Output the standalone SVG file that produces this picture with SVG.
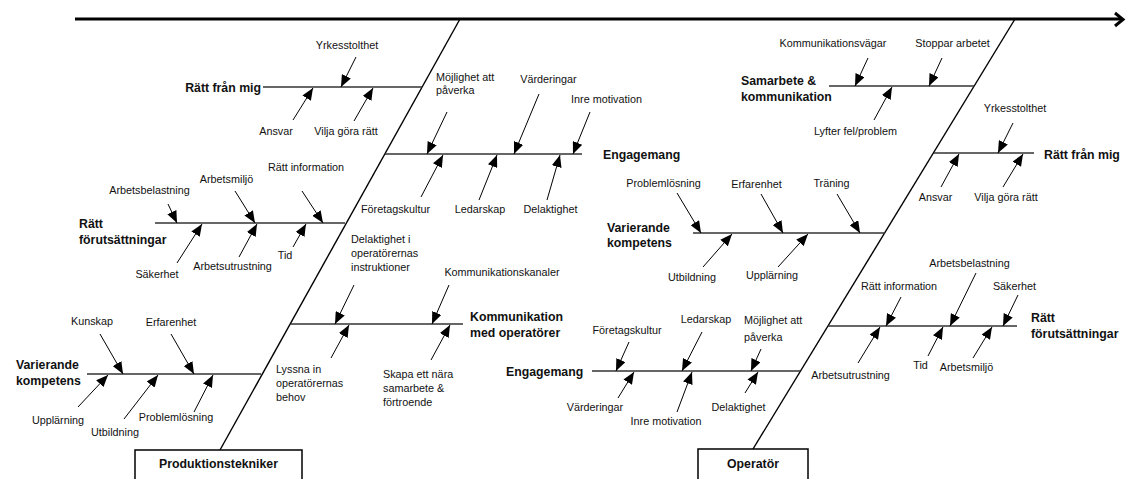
<svg xmlns="http://www.w3.org/2000/svg" width="1126" height="479" viewBox="0 0 1126 479">
  <defs>
    <style>
      text { font-family: "Liberation Sans", Arial, sans-serif; fill: #111; }
      .c { font-size: 10.8px; text-anchor: middle; }
      .s { font-size: 10.8px; }
      .h { font-size: 12.3px; font-weight: bold; }
      .hm { font-size: 12.3px; font-weight: bold; text-anchor: middle; }
      .spine { stroke: #000; stroke-width: 3; fill: none; }
      .bone { stroke: #000; stroke-width: 1.4; fill: none; }
      .rib { stroke: #333; stroke-width: 1.3; fill: none; }
      .cause { stroke: #000; stroke-width: 1; fill: none; marker-end: url(#ah); }
      .box { fill: #fff; stroke: #000; stroke-width: 1.5; }
    </style>
    <marker id="ah" viewBox="0 0 12 10" refX="12" refY="5" markerWidth="12" markerHeight="10" orient="auto" markerUnits="userSpaceOnUse">
      <path d="M0,0 L12,5 L0,10 z" fill="#000"/>
    </marker>
  </defs>

  <!-- connectors: spine, diagonal bones, category ribs and cause arrows -->
  <g id="connectors">
    <line class="spine" x1="75" y1="19" x2="1122" y2="19"/>
    <polyline class="spine" stroke-width="2.5" points="1115,13 1123,19.5 1115,26"/>

    <line class="bone" x1="460" y1="19" x2="220" y2="450"/>
    <line class="bone" x1="1015" y1="19" x2="753" y2="449"/>

    <line class="rib" x1="263" y1="87" x2="422" y2="87"/>
    <line class="rib" x1="155" y1="223" x2="345" y2="223"/>
    <line class="rib" x1="87" y1="374" x2="261" y2="374"/>
    <line class="rib" x1="385" y1="154" x2="582" y2="154"/>
    <line class="rib" x1="291" y1="324" x2="463" y2="324"/>
    <line class="rib" x1="829" y1="86" x2="974" y2="86"/>
    <line class="rib" x1="934" y1="153" x2="1034" y2="153"/>
    <line class="rib" x1="693" y1="233" x2="885" y2="233"/>
    <line class="rib" x1="592" y1="371" x2="800" y2="371"/>
    <line class="rib" x1="828" y1="326" x2="1017" y2="326"/>

    <!-- Produktionstekniker: Rätt från mig -->
    <line class="cause" x1="356" y1="57" x2="341" y2="87"/>
    <line class="cause" x1="293" y1="120" x2="313" y2="88"/>
    <line class="cause" x1="354" y1="121" x2="373" y2="88"/>
    <!-- Rätt förutsättningar -->
    <line class="cause" x1="168" y1="204" x2="177" y2="223"/>
    <line class="cause" x1="235" y1="191" x2="255" y2="223"/>
    <line class="cause" x1="302" y1="191" x2="323" y2="223"/>
    <line class="cause" x1="177" y1="263" x2="202" y2="224"/>
    <line class="cause" x1="239" y1="257" x2="257" y2="224"/>
    <line class="cause" x1="293" y1="247" x2="306" y2="224"/>
    <!-- Varierande kompetens -->
    <line class="cause" x1="100" y1="334" x2="123" y2="374"/>
    <line class="cause" x1="171" y1="334" x2="194" y2="374"/>
    <line class="cause" x1="78" y1="407" x2="108" y2="375"/>
    <line class="cause" x1="124" y1="419" x2="158" y2="375"/>
    <line class="cause" x1="194" y1="412" x2="213" y2="375"/>
    <!-- Engagemang -->
    <line class="cause" x1="447" y1="112" x2="427" y2="154"/>
    <line class="cause" x1="539" y1="94" x2="514" y2="154"/>
    <line class="cause" x1="590" y1="112" x2="573" y2="154"/>
    <line class="cause" x1="421" y1="197" x2="443" y2="155"/>
    <line class="cause" x1="479" y1="200" x2="497" y2="155"/>
    <line class="cause" x1="547" y1="200" x2="560" y2="155"/>
    <!-- Kommunikation med operatörer -->
    <line class="cause" x1="354" y1="285" x2="335" y2="324"/>
    <line class="cause" x1="449" y1="285" x2="432" y2="324"/>
    <line class="cause" x1="331" y1="358" x2="349" y2="325"/>
    <line class="cause" x1="431" y1="360" x2="450" y2="325"/>

    <!-- Operatör: Samarbete & kommunikation -->
    <line class="cause" x1="868" y1="58" x2="855" y2="86"/>
    <line class="cause" x1="942" y1="58" x2="929" y2="86"/>
    <line class="cause" x1="874" y1="120" x2="892" y2="87"/>
    <!-- Rätt från mig -->
    <line class="cause" x1="1013" y1="123" x2="998" y2="153"/>
    <line class="cause" x1="941" y1="187" x2="959" y2="154"/>
    <line class="cause" x1="1003" y1="187" x2="1023" y2="154"/>
    <!-- Varierande kompetens -->
    <line class="cause" x1="677" y1="193" x2="701" y2="233"/>
    <line class="cause" x1="761" y1="194" x2="783" y2="233"/>
    <line class="cause" x1="837" y1="194" x2="860" y2="233"/>
    <line class="cause" x1="703" y1="267" x2="732" y2="234"/>
    <line class="cause" x1="778" y1="267" x2="808" y2="234"/>
    <!-- Engagemang -->
    <line class="cause" x1="629" y1="342" x2="616" y2="371"/>
    <line class="cause" x1="702" y1="332" x2="682" y2="371"/>
    <line class="cause" x1="761" y1="349" x2="751" y2="371"/>
    <line class="cause" x1="618" y1="398" x2="634" y2="372"/>
    <line class="cause" x1="677" y1="412" x2="692" y2="372"/>
    <line class="cause" x1="745" y1="393" x2="758" y2="372"/>
    <!-- Rätt förutsättningar -->
    <line class="cause" x1="901" y1="297" x2="886" y2="326"/>
    <line class="cause" x1="976" y1="273" x2="950" y2="326"/>
    <line class="cause" x1="1018" y1="295" x2="1003" y2="326"/>
    <line class="cause" x1="858" y1="363" x2="880" y2="327"/>
    <line class="cause" x1="928" y1="356" x2="943" y2="327"/>
    <line class="cause" x1="973" y1="358" x2="992" y2="327"/>
  </g>

  <!-- root boxes -->
  <g id="produktionstekniker">
    <rect class="box" x="135" y="450" width="167" height="40"/>
    <text class="hm" x="218.5" y="468">Produktionstekniker</text>
  </g>
  <g id="operator">
    <rect class="box" x="698" y="449" width="110" height="40"/>
    <text class="hm" x="753" y="468">Operatör</text>
  </g>

  <!-- Produktionstekniker categories -->
  <g id="pt-ratt-fran-mig">
    <text class="h" x="261" y="92" text-anchor="end">Rätt från mig</text>
    <text class="c" x="347" y="49">Yrkesstolthet</text>
    <text class="c" x="276" y="135">Ansvar</text>
    <text class="c" x="346" y="135">Vilja göra rätt</text>
  </g>
  <g id="pt-ratt-forutsattningar">
    <text class="h" x="79" y="228">Rätt</text>
    <text class="h" x="79" y="244">förutsättningar</text>
    <text class="c" x="149.5" y="194">Arbetsbelastning</text>
    <text class="c" x="226.5" y="183">Arbetsmiljö</text>
    <text class="c" x="306" y="171">Rätt information</text>
    <text class="c" x="157" y="278">Säkerhet</text>
    <text class="c" x="232.5" y="270">Arbetsutrustning</text>
    <text class="c" x="285" y="259">Tid</text>
  </g>
  <g id="pt-varierande-kompetens">
    <text class="h" x="16" y="369">Varierande</text>
    <text class="h" x="16" y="385">kompetens</text>
    <text class="c" x="92" y="325">Kunskap</text>
    <text class="c" x="171" y="326">Erfarenhet</text>
    <text class="c" x="58" y="424">Upplärning</text>
    <text class="c" x="115" y="436">Utbildning</text>
    <text class="c" x="176" y="421">Problemlösning</text>
  </g>
  <g id="pt-engagemang">
    <text class="h" x="603" y="159">Engagemang</text>
    <text class="s" x="436" y="81">Möjlighet att</text>
    <text class="s" x="436" y="94">påverka</text>
    <text class="c" x="548.5" y="83">Värderingar</text>
    <text class="c" x="606.5" y="103">Inre motivation</text>
    <text class="c" x="395.5" y="213">Företagskultur</text>
    <text class="c" x="480" y="213">Ledarskap</text>
    <text class="c" x="550.5" y="213">Delaktighet</text>
  </g>
  <g id="pt-kommunikation">
    <text class="h" x="470" y="321">Kommunikation</text>
    <text class="h" x="470" y="337">med operatörer</text>
    <text class="s" x="351" y="243">Delaktighet i</text>
    <text class="s" x="351" y="257">operatörernas</text>
    <text class="s" x="351" y="271">instruktioner</text>
    <text class="c" x="502" y="276">Kommunikationskanaler</text>
    <text class="s" x="276" y="373">Lyssna in</text>
    <text class="s" x="276" y="387">operatörernas</text>
    <text class="s" x="276" y="401">behov</text>
    <text class="s" x="383" y="378">Skapa ett nära</text>
    <text class="s" x="383" y="392">samarbete &amp;</text>
    <text class="s" x="383" y="406">förtroende</text>
  </g>

  <!-- Operatör categories -->
  <g id="op-samarbete">
    <text class="h" x="741" y="85">Samarbete &amp;</text>
    <text class="h" x="741" y="101">kommunikation</text>
    <text class="c" x="833" y="47">Kommunikationsvägar</text>
    <text class="c" x="952.5" y="47">Stoppar arbetet</text>
    <text class="c" x="855.5" y="135">Lyfter fel/problem</text>
  </g>
  <g id="op-ratt-fran-mig">
    <text class="h" x="1044" y="159">Rätt från mig</text>
    <text class="c" x="1015" y="112">Yrkesstolthet</text>
    <text class="c" x="935.5" y="201">Ansvar</text>
    <text class="c" x="1006" y="201">Vilja göra rätt</text>
  </g>
  <g id="op-varierande-kompetens">
    <text class="h" x="607" y="232">Varierande</text>
    <text class="h" x="607" y="247">kompetens</text>
    <text class="c" x="663.5" y="187">Problemlösning</text>
    <text class="c" x="756.5" y="188">Erfarenhet</text>
    <text class="c" x="831.5" y="187">Träning</text>
    <text class="c" x="692" y="281">Utbildning</text>
    <text class="c" x="772" y="279">Upplärning</text>
  </g>
  <g id="op-engagemang">
    <text class="h" x="506" y="376">Engagemang</text>
    <text class="c" x="627" y="334">Företagskultur</text>
    <text class="c" x="706" y="323">Ledarskap</text>
    <text class="s" x="744" y="324">Möjlighet att</text>
    <text class="s" x="744" y="341">påverka</text>
    <text class="c" x="595" y="411">Värderingar</text>
    <text class="c" x="666" y="425">Inre motivation</text>
    <text class="c" x="738.5" y="411">Delaktighet</text>
  </g>
  <g id="op-ratt-forutsattningar">
    <text class="h" x="1031" y="322">Rätt</text>
    <text class="h" x="1031" y="338">förutsättningar</text>
    <text class="c" x="899" y="290">Rätt information</text>
    <text class="c" x="969.5" y="267">Arbetsbelastning</text>
    <text class="c" x="1014.5" y="290">Säkerhet</text>
    <text class="c" x="850.5" y="379">Arbetsutrustning</text>
    <text class="c" x="920.5" y="369">Tid</text>
    <text class="c" x="966.5" y="371">Arbetsmiljö</text>
  </g>
</svg>
